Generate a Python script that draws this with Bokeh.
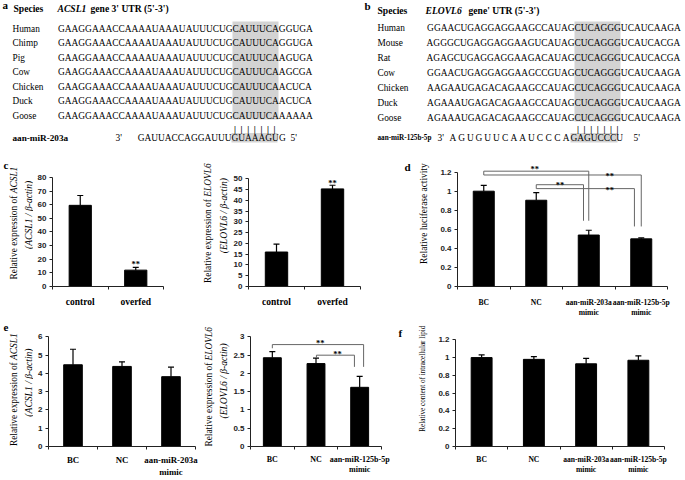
import math
from bokeh.plotting import figure
from bokeh.layouts import row, column
from bokeh.models import (Range1d, FixedTicker, Whisker, TeeHead,
                          ColumnDataSource, PrintfTickFormatter)
from bokeh.core.properties import value
from bokeh.embed import file_html
from bokeh.resources import INLINE

SERIF = "Liberation Serif"
SANS = "Liberation Sans"

# ---------------- data ----------------
species_a = ["Human", "Chimp", "Pig", "Cow", "Chicken", "Duck", "Goose"]
seqs_a = [
    "GAAGGAAACCAAAAUAAAUAUUUCUGCAUUUCAGGUGA",
    "GAAGGAAACCAAAAUAAAUAUUUCUGCAUUUCAGGUGA",
    "GAAGGAAACCAAAAUAAAUAUUUCUGCAUUUCAAGUGA",
    "GAAGGAAACCAAAAUAAAUAUUUCUGCAUUUCAAGCGA",
    "GAAGGAAACCAAAAUAAAUAUUUCUGCAUUUCAACUCA",
    "GAAGGAAACCAAAAUAAAUAUUUCUGCAUUUCAACUCA",
    "GAAGGAAACCAAAAUAAAUAUUUCUGCAUUUCAAAAAA",
]
seed_start_a = 26
mirna_name_a = "aan-miR-203a"
mirna_a = "GAUUACCAGGAUUUGUAAAGUG"
mirna_seed_a = 14

species_b = ["Human", "Mouse", "Rat", "Cow", "Chicken", "Duck", "Goose"]
seqs_b = [
    "GGAACUGAGGAGGAAGCCAUAGCUCAGGGUCAUCAAGA",
    "AGGGCUGAGGAGGAAGUCAUAGCUCAGGGUCAUCACGA",
    "AGAGCUGAGGAGGAAGACAUAGCUCAGGGUCAUCACGA",
    "GGAACUGAGGAGGAAGCCGUAGCUCAGGGUCAUCAAGA",
    "AAGAAUGAGACAGAAGCCAUAGCUCAGGGUCAUCAAGA",
    "AGAAAUGAGACAGAAGCCAUAGCUCAGGGUCAUCAAGA",
    "AGAAAUGAGACAGAAGCCAUAGCUCAGGGUCAUCAAGA",
]
seed_start_b = 22
mirna_name_b = "aan-miR-125b-5p"
mirna_b = "AGUGUUCAAUCCCAGAGUCCCU"
mirna_seed_b = 14

c1_cats = ["control", "overfed"]
c1_vals = [59.5, 12.0]
c1_errs = [7.2, 2.0]
c1_ticks = [0, 10, 20, 30, 40, 50, 60, 70, 80]

c2_cats = ["control", "overfed"]
c2_vals = [16.0, 45.3]
c2_errs = [3.7, 1.7]
c2_ticks = [0, 5, 10, 15, 20, 25, 30, 35, 40, 45, 50]

d_cats = ["BC", "NC", "aan-miR-203a\nmimic", "aan-miR-125b-5p\nmimic"]
d_vals = [1.00, 0.905, 0.54, 0.50]
d_errs = [0.06, 0.08, 0.05, 0.01]
d_ticks = [0, 0.2, 0.4, 0.6, 0.8, 1.0, 1.2]

e1_cats = ["BC", "NC", "aan-miR-203a\nmimic"]
e1_vals = [4.47, 4.38, 3.82]
e1_errs = [0.85, 0.25, 0.52]
e1_ticks = [0, 1, 2, 3, 4, 5, 6]

e2_cats = ["BC", "NC", "aan-miR-125b-5p\nmimic"]
e2_vals = [2.43, 2.27, 1.62]
e2_errs = [0.17, 0.15, 0.30]
e2_ticks = [0, 0.5, 1, 1.5, 2, 2.5, 3]

f_cats = ["BC", "NC", "aan-miR-203a\nmimic", "aan-miR-125b-5p\nmimic"]
f_vals = [1.00, 0.98, 0.93, 0.97]
f_errs = [0.03, 0.03, 0.06, 0.05]
f_ticks = [0, 0.2, 0.4, 0.6, 0.8, 1.0, 1.2]

# significance brackets: (left x, right x, level, left drop, right drop, star x, star y)
d_brackets = [
    (1.0, 3.0, 1.21, 1.17, 0.69, 1.97, 1.237),
    (1.0, 4.0, 1.17, 1.17, 0.63, 3.40, 1.155),
    (2.0, 2.9, 1.068, 1.027, 0.69, 2.45, 1.066),
    (2.0, 3.87, 1.027, 1.027, 0.63, 3.40, 1.013),
]
e2_brackets = [
    (1.0, 3.09, 2.79, 2.69, 2.18, 2.10, 2.83),
    (2.01, 2.88, 2.50, 2.42, 2.18, 2.49, 2.52),
]
c1_stars = [(2, 16.4)]
c2_stars = [(2, 48.0)]

HALF_PI = math.pi / 2


# ---------------- helpers ----------------
def canvas(x0, x1, y0, y1):
    p = figure(width=x1 - x0, height=y1 - y0, x_range=Range1d(x0, x1),
               y_range=Range1d(-y1, -y0), x_axis_type=None, y_axis_type=None,
               output_backend="svg", toolbar_location=None, min_border=0)
    p.outline_line_color = None
    return p


def txt(p, x, y, s, size, style="normal", font=SERIF, align="left",
        baseline="middle", angle=0.0, color="black"):
    xs = x if isinstance(x, list) else [x]
    ys = y if isinstance(y, list) else [y]
    ss = s if isinstance(s, list) else [s]
    p.text(x=xs, y=[-v for v in ys], text=ss, text_font=value(font),
           text_font_size=f"{size}px", text_font_style=style,
           text_align=align, text_baseline=baseline, angle=angle,
           text_color=color)


def rot_title(p, x, y_anchor, regular, italic, size=9.4):
    txt(p, x, y_anchor, regular, size, "normal", align="right", angle=HALF_PI)
    txt(p, x, y_anchor, italic, size, "italic", align="left", angle=HALF_PI)


def bar_chart(x0, x1, y0, y1, fx0, fx1, ftop, axis_y, ytop_px, cats, vals,
              errs, yticks, bar_w=0.4, lab_size=9.3, standoff=7,
              brackets=(), stars=()):
    n = len(cats)
    unit = (axis_y - ytop_px) / yticks[-1]
    y_end = (axis_y - ftop) / unit
    p = figure(width=x1 - x0, height=y1 - y0, x_range=Range1d(0.5, n + 0.5),
               y_range=Range1d(0, y_end), output_backend="svg",
               toolbar_location=None, min_border_left=fx0 - x0,
               min_border_right=x1 - fx1, min_border_top=ftop - y0,
               min_border_bottom=y1 - axis_y)
    p.grid.visible = False
    p.outline_line_color = None
    xs = list(range(1, n + 1))
    p.vbar(x=xs, top=vals, width=bar_w, bottom=0, fill_color="black",
           line_color="black")
    src = ColumnDataSource(dict(x=xs, lower=vals,
                                upper=[v + e for v, e in zip(vals, errs)]))
    p.add_layout(Whisker(source=src, base="x", lower="lower", upper="upper",
                         line_color="black", line_width=1.2,
                         upper_head=TeeHead(size=6, line_color="black",
                                            line_width=1.2),
                         lower_head=None))
    ya = p.yaxis[0]
    ya.ticker = FixedTicker(ticks=yticks)
    ya.bounds = (0, yticks[-1])
    ya.formatter = PrintfTickFormatter(format="%g")
    ya.axis_line_color = "#222"
    ya.major_tick_line_color = "#222"
    ya.major_tick_out = 3
    ya.major_tick_in = 0
    ya.minor_tick_line_color = None
    ya.major_label_standoff = 3
    ya.major_label_text_font = SANS
    ya.major_label_text_font_style = "bold"
    ya.major_label_text_font_size = "8px"
    ya.major_label_text_color = "#222"

    xa = p.xaxis[0]
    xa.ticker = FixedTicker(ticks=xs, minor_ticks=[i + 0.5 for i in range(n + 1)])
    xa.major_label_overrides = {float(i): c for i, c in zip(xs, cats)}
    xa.axis_line_color = "#222"
    xa.major_tick_line_color = None
    xa.major_tick_out = 0
    xa.major_tick_in = 0
    xa.minor_tick_line_color = "#222"
    xa.minor_tick_out = 3
    xa.minor_tick_in = 0
    xa.major_label_standoff = standoff
    xa.major_label_text_font = SERIF
    xa.major_label_text_font_style = "bold"
    xa.major_label_text_font_size = f"{lab_size}px"
    xa.major_label_text_color = "black"

    if brackets:
        bxs, bys = [], []
        for (l, r, lvl, ldrop, rdrop, _sx, _sy) in brackets:
            bxs.append([l, l, r, r])
            bys.append([ldrop, lvl, lvl, rdrop])
        p.multi_line(xs=bxs, ys=bys, line_color="#666", line_width=1)
        sx = [b[5] for b in brackets]
        sy = [b[6] for b in brackets]
        p.text(x=sx, y=sy, text=["**"] * len(sx), text_font=value(SERIF),
               text_font_size="8.5px", text_font_style="bold",
               text_align="center", text_baseline="alphabetic",
               text_color="black")
    if stars:
        p.text(x=[s[0] for s in stars], y=[s[1] for s in stars],
               text=["**"] * len(stars), text_font=value(SERIF),
               text_font_size="8.5px", text_font_style="bold",
               text_align="center", text_baseline="alphabetic",
               text_color="black")
    return p


SEQ_SIZE = 9.4
NAME_SIZE = 9.3
HEAD_SIZE = 9.6
GRAY = "#d3d3d3"

# ---------------- row 1: panels a and b ----------------
pa = canvas(0, 340, 0, 160)
rows_a = [28 + 14.5 * i for i in range(len(species_a))]
pa.quad(left=[232], right=[278], top=[-21], bottom=[-119],
        fill_color=GRAY, line_color=None)
pa.quad(left=[231], right=[277], top=[-132.5], bottom=[-142],
        fill_color=GRAY, line_color=None)
txt(pa, 2, 4, "a", 11, "bold")
txt(pa, 13, 8, "Species", HEAD_SIZE, "bold")
txt(pa, 57, 8, "ACSL1", HEAD_SIZE, "bold italic")
txt(pa, 90, 8, "gene 3' UTR (5'-3')", HEAD_SIZE, "bold")
txt(pa, [12] * len(rows_a), rows_a, species_a, NAME_SIZE)
txt(pa, [232] * len(rows_a), rows_a, [s[:seed_start_a] for s in seqs_a],
    SEQ_SIZE, align="right")
txt(pa, [232] * len(rows_a), rows_a, [s[seed_start_a:] for s in seqs_a],
    SEQ_SIZE, align="left")
txt(pa, [234.5 + 6.6 * i for i in range(7)], [128.5] * 7, ["|"] * 7, 9,
    "bold", align="center")
txt(pa, 12, 137, mirna_name_a, 9.2, "bold")
txt(pa, 115, 137, "3'", SEQ_SIZE)
txt(pa, 231, 137, mirna_a[:mirna_seed_a], SEQ_SIZE, align="right")
txt(pa, 231, 137, mirna_a[mirna_seed_a:], SEQ_SIZE, align="left")
txt(pa, 290, 137, "5'", SEQ_SIZE)

pb = canvas(340, 685, 0, 160)
rows_b = [27 + 15 * i for i in range(len(species_b))]
pb.quad(left=[574], right=[620], top=[-21], bottom=[-121],
        fill_color=GRAY, line_color=None)
pb.quad(left=[570], right=[617], top=[-132.5], bottom=[-142],
        fill_color=GRAY, line_color=None)
txt(pb, 364, 5, "b", 11, "bold")
txt(pb, 377, 10, "Species", HEAD_SIZE, "bold")
txt(pb, 425, 10, "ELOVL6", HEAD_SIZE, "bold italic")
txt(pb, 468, 10, "gene' UTR (5'-3')", HEAD_SIZE, "bold")
txt(pb, [377] * len(rows_b), rows_b, species_b, NAME_SIZE)
txt(pb, [574] * len(rows_b), rows_b, [s[:seed_start_b] for s in seqs_b],
    SEQ_SIZE, align="right")
txt(pb, [574] * len(rows_b), rows_b, [s[seed_start_b:] for s in seqs_b],
    SEQ_SIZE, align="left")
txt(pb, [577.5 + 6.6 * i for i in range(7)], [128.5] * 7, ["|"] * 7, 9,
    "bold", align="center")
txt(pb, 377, 137, mirna_name_b, 7.2, "bold")
txt(pb, 437, 137, "3'", SEQ_SIZE)
# the 3' part of this miRNA is set with wider letter spacing in the figure
pre_b = mirna_b[:mirna_seed_b]
step_b = (570 - 448) / len(pre_b)
txt(pb, [448 + step_b * (i + 0.5) for i in range(len(pre_b))],
    [137] * len(pre_b), list(pre_b), SEQ_SIZE, align="center")
txt(pb, 570, 137, mirna_b[mirna_seed_b:], SEQ_SIZE, align="left")
txt(pb, 633, 137, "5'", SEQ_SIZE)

row1 = row(pa, pb)

# ---------------- row 2: panels c and d ----------------
R2 = (160, 320)
s_c1 = canvas(0, 33, *R2)
txt(s_c1, 3, 166, "c", 11, "bold")
rot_title(s_c1, 13, 201.6, "Relative expression of ", "ACSL1")
txt(s_c1, 28, 229, "(ACSL1 / \u03b2-actin)", 9.6, "italic", align="center",
    angle=HALF_PI)
c1 = bar_chart(33, 172, *R2, 52, 163, 160, 287, 177, c1_cats, c1_vals,
               c1_errs, c1_ticks, 0.4, 9.5, stars=c1_stars)

s_c2 = canvas(172, 230, *R2)
rot_title(s_c2, 207, 206, "Relative expression of ", "ELOVL6")
txt(s_c2, 223, 230, "(ELOVL6 / \u03b2-actin)", 9.6, "italic", align="center",
    angle=HALF_PI)
c2 = bar_chart(230, 395, *R2, 248, 360, 160, 291, 179, c2_cats, c2_vals,
               c2_errs, c2_ticks, 0.4, 9.5, stars=c2_stars)

s_d = canvas(395, 433, *R2)
txt(s_d, 404, 168, "d", 11, "bold")
txt(s_d, 423, 227.5, "Relative luciferase activity", 9.4, align="center",
    angle=HALF_PI)
d = bar_chart(433, 685, *R2, 457, 667, 160, 290, 172, d_cats, d_vals,
              d_errs, d_ticks, 0.4, 7.6, standoff=8, brackets=d_brackets)

row2 = row(s_c1, c1, s_c2, c2, s_d, d)

# ---------------- row 3: panels e and f ----------------
R3 = (320, 479)
s_e1 = canvas(0, 33, *R3)
txt(s_e1, 3, 326, "e", 11, "bold")
rot_title(s_e1, 13, 368, "Relative expression of ", "ACSL1")
txt(s_e1, 28, 397, "(ACSL1 / \u03b2-actin)", 9.6, "italic", align="center",
    angle=HALF_PI)
e1 = bar_chart(33, 203, *R3, 48, 195, 322, 452, 337, e1_cats, e1_vals,
               e1_errs, e1_ticks, 0.38, 8.8, standoff=5)

s_e2 = canvas(203, 230, *R3)
rot_title(s_e2, 208, 368.6, "Relative expression of ", "ELOVL6")
txt(s_e2, 223, 395, "(ELOVL6 / \u03b2-actin)", 9.6, "italic", align="center",
    angle=HALF_PI)
e2 = bar_chart(230, 395, *R3, 250, 381, 322, 451, 337, e2_cats, e2_vals,
               e2_errs, e2_ticks, 0.41, 8.0, standoff=5, brackets=e2_brackets)

s_f = canvas(395, 430, *R3)
txt(s_f, 398, 333, "f", 11, "bold")
txt(s_f, 422, 392, "Relative content of intracellular lipid", 7.2,
    align="center", angle=HALF_PI)
f = bar_chart(430, 685, *R3, 455, 664, 322, 451, 340, f_cats, f_vals,
              f_errs, f_ticks, 0.4, 7.6, standoff=5)

row3 = row(s_e1, e1, s_e2, e2, s_f, f)

layout = column(row1, row2, row3)
open("out.html", "w").write(file_html(layout, INLINE))
